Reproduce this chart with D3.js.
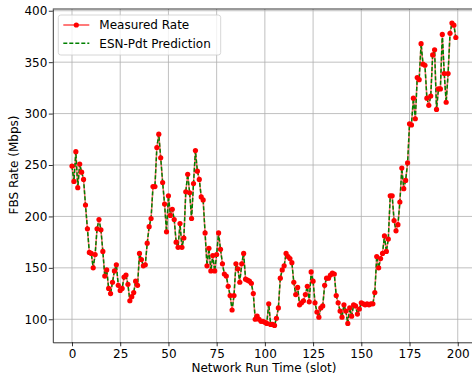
<!DOCTYPE html>
<html>
<head>
<meta charset="utf-8">
<script src="https://cdn.jsdelivr.net/npm/d3@7"></script>
<style>
  body { margin: 0; background: #fff; }
  text { font-family: "DejaVu Sans", sans-serif; fill: #000; }
  .axis path, .axis line { stroke: #000; stroke-width: 0.8; }
  .grid line { stroke: #b0b0b0; stroke-width: 0.8; }
</style>
</head>
<body>
<div id="chart"></div>
<script>
// measured FBS rate per slot
const measured = [
  249, 234, 263, 228, 251, 243, 236, 211, 188, 165,
  164, 150, 163, 188, 197, 187, 166, 142, 148, 130,
  125, 136, 147, 153, 133, 128, 130, 141, 143, 134,
  118, 122, 126, 137, 133, 164, 158, 152, 153, 174,
  190, 198, 229, 229, 267, 280, 257, 233, 212, 185,
  220, 201, 207, 197, 175, 170, 193, 170, 179, 224,
  241, 223, 198, 232, 264, 244, 236, 219, 216, 184,
  152, 169, 147, 162, 147, 163, 184, 168, 154, 144,
  142, 132, 123, 109, 123, 154, 149, 136, 154, 164,
  139, 138, 137, 135, 125, 100, 103, 100, 98, 98,
  97, 96, 115, 95, 95, 94, 101, 111, 140, 148,
  152, 164, 161, 159, 155, 136, 124, 131, 114, 116,
  118, 124, 132, 117, 146, 137, 116, 107, 102, 111,
  113, 133, 140, 140, 143, 145, 144, 123, 116, 108,
  102, 114, 108, 96, 111, 103, 114, 113, 105, 110,
  116, 115, 114, 115, 114, 115, 115, 126, 161, 150,
  159, 164, 181, 166, 178, 220, 220, 196, 186, 192,
  214, 247, 227, 235, 252, 290, 289, 315, 295, 335,
  333, 368, 348, 347, 315, 308, 317, 357, 362, 304,
  324, 324, 377, 339, 311, 339, 378, 388, 386, 374
];

// ESN-Pdt prediction, visually on top of the measured curve
const predicted = [
  249, 234, 263, 228, 251, 243, 236, 211, 188, 165,
  164, 150, 163, 188, 197, 187, 166, 142, 148, 130,
  125, 136, 147, 153, 133, 128, 130, 141, 143, 134,
  118, 122, 126, 137, 133, 164, 158, 152, 153, 174,
  190, 198, 229, 229, 267, 280, 257, 233, 212, 185,
  220, 201, 207, 197, 175, 170, 193, 170, 179, 224,
  241, 223, 198, 232, 264, 244, 236, 219, 216, 184,
  152, 169, 147, 162, 147, 163, 184, 168, 154, 144,
  142, 132, 123, 109, 123, 154, 149, 136, 154, 164,
  139, 138, 137, 135, 125, 100, 103, 100, 98, 98,
  97, 96, 115, 95, 95, 94, 101, 111, 140, 148,
  152, 164, 161, 159, 155, 136, 124, 131, 114, 116,
  118, 124, 132, 117, 146, 137, 116, 107, 102, 111,
  113, 133, 140, 140, 143, 145, 144, 123, 116, 108,
  102, 114, 108, 96, 111, 103, 114, 113, 105, 110,
  116, 115, 114, 115, 114, 115, 115, 126, 161, 150,
  159, 164, 181, 166, 178, 220, 220, 196, 186, 192,
  214, 247, 227, 235, 252, 290, 289, 315, 295, 335,
  333, 368, 348, 347, 315, 308, 317, 357, 362, 304,
  324, 324, 377, 339, 311, 339, 378, 388, 386, 374
];

const xTicks = [0, 25, 50, 75, 100, 125, 150, 175, 200];
const yTicks = [100, 150, 200, 250, 300, 350, 400];
const seriesNames = ['Measured Rate', 'ESN-Pdt Prediction'];

const width = 472, height = 381;
const plot = ({left: 52.8, right: 475, top: 9, bottom: 342.3});

let x = d3.scaleLinear().domain([-9.95, 208.95]).range([plot.left, plot.right]);
let y = d3.scaleLinear().domain([77.6, 401.7]).range([plot.bottom, plot.top]);

let line = d3.line()
  .x((d, i) => x(i))
  .y(d => y(d));

let svg = d3.select('#chart').append('svg')
  .attr('width', width)
  .attr('height', height);

// grid
svg.append('g').attr('class', 'grid')
  .selectAll('line.gx').data(xTicks).enter().append('line')
  .attr('x1', d => x(d)).attr('x2', d => x(d))
  .attr('y1', plot.top).attr('y2', plot.bottom);

svg.select('g.grid')
  .selectAll('line.gy').data(yTicks).enter().append('line')
  .attr('x1', plot.left).attr('x2', plot.right)
  .attr('y1', d => y(d)).attr('y2', d => y(d));

// series
svg.append('path')
  .datum(measured)
  .attr('fill', 'none')
  .attr('stroke', '#ff0000')
  .attr('stroke-opacity', 0.55)
  .attr('stroke-width', 1.5)
  .attr('d', line);

svg.append('path')
  .datum(predicted)
  .attr('fill', 'none')
  .attr('stroke', '#008000')
  .attr('stroke-width', 1.5)
  .attr('stroke-dasharray', '4,2')
  .attr('d', line);

svg.append('g')
  .selectAll('circle').data(measured).enter().append('circle')
  .attr('cx', (d, i) => x(i))
  .attr('cy', d => y(d))
  .attr('r', 2.6)
  .attr('fill', '#ff0000');

// axes
let xAxis = d3.axisBottom(x).tickValues(xTicks).tickSize(4).tickSizeOuter(0).tickPadding(3);
let yAxis = d3.axisLeft(y).tickValues(yTicks).tickSize(4).tickSizeOuter(0).tickPadding(1.5);

svg.append('g').attr('class', 'axis')
  .attr('transform', `translate(0,${plot.bottom})`)
  .call(xAxis)
  .selectAll('text').style('font-size', '12px').style('font-family', 'DejaVu Sans');

svg.append('g').attr('class', 'axis')
  .attr('transform', `translate(${plot.left},0)`)
  .call(yAxis)
  .selectAll('text').style('font-size', '12px').style('font-family', 'DejaVu Sans');

// top spine (right one falls outside the picture)
svg.append('line')
  .attr('x1', plot.left).attr('x2', plot.right)
  .attr('y1', plot.top).attr('y2', plot.top)
  .attr('stroke', '#000').attr('stroke-width', 0.8);

// axis labels
svg.append('text')
  .attr('text-anchor', 'middle')
  .attr('x', (plot.left + plot.right) / 2)
  .attr('y', 371.5)
  .style('font-size', '12px')
  .text('Network Run Time (slot)');

svg.append('text')
  .attr('text-anchor', 'middle')
  .attr('transform', 'translate(17.8,165)rotate(-90)')
  .style('font-size', '12px')
  .text('FBS Rate (Mbps)');

// legend
let legend = svg.append('g').attr('transform', 'translate(58.3,15)');

legend.append('rect')
  .attr('width', 162.4).attr('height', 40)
  .attr('rx', 2.5)
  .attr('fill', '#fff').attr('fill-opacity', 0.8)
  .attr('stroke', '#cccccc').attr('stroke-width', 0.8);

legend.append('line')
  .attr('x1', 5).attr('x2', 31).attr('y1', 10).attr('y2', 10)
  .attr('stroke', '#ff0000').attr('stroke-opacity', 0.7).attr('stroke-width', 1.5);
legend.append('circle')
  .attr('cx', 18).attr('cy', 10).attr('r', 2.6).attr('fill', '#ff0000');

legend.append('line')
  .attr('x1', 5).attr('x2', 31).attr('y1', 28.3).attr('y2', 28.3)
  .attr('stroke', '#008000').attr('stroke-width', 1.5)
  .attr('stroke-dasharray', '4,2');

legend.selectAll('text.lg').data(seriesNames).enter().append('text')
  .attr('x', 41)
  .attr('y', (d, i) => 10 + i * 18.3)
  .attr('dy', '0.35em')
  .style('font-size', '12px')
  .text(d => d);
</script>
</body>
</html>
